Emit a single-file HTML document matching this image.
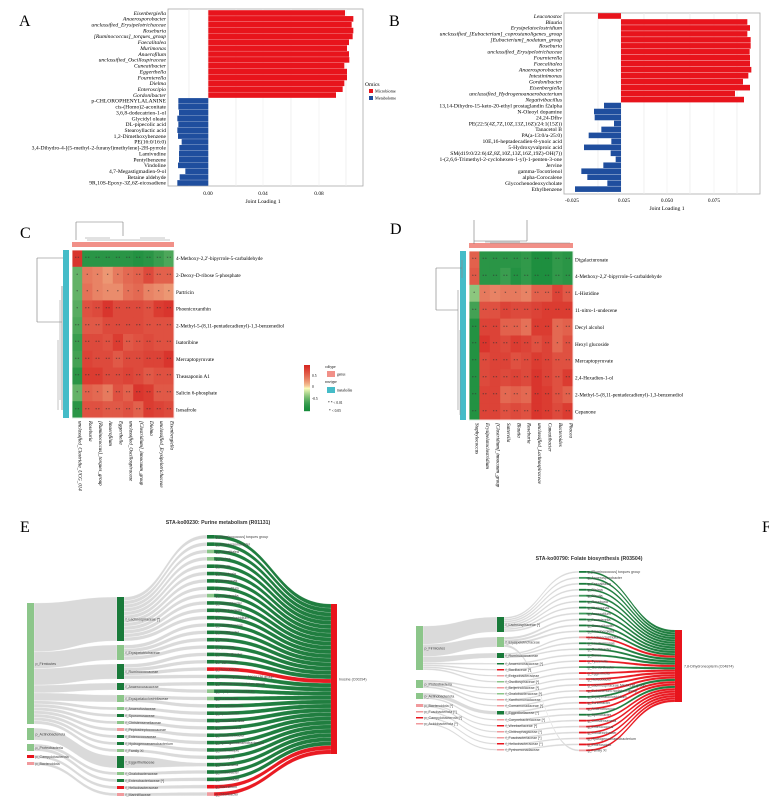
<!DOCTYPE html>
<html><head><meta charset="utf-8">
<style>
html,body{margin:0;padding:0;background:#fff;}
svg{display:block;}
.sf{font-family:"Liberation Serif",serif;}
.ss{font-family:"Liberation Sans",sans-serif;}
</style></head>
<body>
<svg id="s" width="769" height="802" viewBox="0 0 769 802" xmlns="http://www.w3.org/2000/svg"></svg>
<script>
var o=[];
function T(x,y,t,sz,anc,extra,cls){o.push('<text x="'+x+'" y="'+y+'" font-size="'+sz+'" text-anchor="'+(anc||'start')+'" class="'+(cls||'sf')+'" '+(extra||'')+'>'+t+'</text>');}
function R(x,y,w,h,f,extra){o.push('<rect x="'+x+'" y="'+y+'" width="'+w+'" height="'+h+'" fill="'+f+'" '+(extra||'')+'/>');}
function L(x1,y1,x2,y2,c,w){o.push('<line x1="'+x1+'" y1="'+y1+'" x2="'+x2+'" y2="'+y2+'" stroke="'+(c||'#777')+'" stroke-width="'+(w||0.6)+'"/>');}
var RED='#e8141c',BLUE='#1f4e9e';
// ---------- Panel A ----------
T(19,26,'A',16);
R(168,9,195,177,'#fff','stroke="#aaa" stroke-width="0.8"');
[189,208,236,263,291,319,346].forEach(function(x,i){L(x,9,x,186,'#ececec',i%2?0.5:0.8);});
var aN=['Eisenbergiella','Anaerosporobacter','unclassified_Erysipelotrichaceae','Roseburia','[Ruminococcus]_torques_group','Faecalitalea','Murimonas','Anaerofilum','unclassified_Oscillospiraceae','Cuneatibacter','Eggerthella','Fournierella','Dielma','Enteroscipio','Gordonibacter','p-CHLOROPHENYLALANINE','cis-(Homo)2-aconitate','3,6,8-dodecatrien-1-ol','Glycidyl oleate','DL-pipecolic acid','Stearoyllactic acid','1,2-Dimethoxybenzene','PE(16:0/16:0)','3,4-Dihydro-4-[(5-methyl-2-furanyl)methylene]-2H-pyrrole','Lamivudine','Pentylbenzene','Vindoline','4,7-Megastigmadien-9-ol','Betaine aldehyde','9R,10S-Epoxy-3Z,6Z-eicosadiene'];
var aR=[1035,1060,1055,1060,1058,1047,1041,1047,1048,1033,1041,1041,1033,1028,1008];
var aB=[535,535,537,532,535,532,534,545,538,537,537,534,556,539,532];
for(var i=0;i<30;i++){var y=13+i*5.86;
 if(i<15){R(208.3,y-2.8,aR[i]/3-208.3,5.6,RED);T(166,y+1.8,aN[i],5.6,'end','font-style="italic"');}
 else{var s=aB[i-15]/3;R(s,y-2.8,208.3-s,5.6,BLUE);T(166,y+1.8,aN[i],5.6,'end');}}
T(208,195,'0.00',5.4,'middle');T(263,195,'0.04',5.4,'middle');T(319,195,'0.08',5.4,'middle');
T(263,203,'Joint Loading 1',5.6,'middle');
T(365,86,'Omics',5.6);R(369,89,4,4,RED);R(369,96,4,4,BLUE);T(375,92.5,'Microbiome',4.2);T(375,99.5,'Metabolome',4.2);
// ---------- Panel B ----------
T(389,26,'B',16);
R(564,13,196,181,'#fff','stroke="#aaa" stroke-width="0.8"');
[598,621,644,667,690,714,737].forEach(function(x,i){L(x,13,x,194,'#ececec',i%2?0.5:0.8);});
var bN=['Leuconostoc','Blautia','Erysipelatoclostridium','unclassified_[Eubacterium]_coprostanoligenes_group','[Eubacterium]_nodatum_group','Roseburia','unclassified_Erysipelotrichaceae','Fournierella','Faecalitalea','Anaerosporobacter','Intestinimonas','Gordonibacter','Eisenbergiella','unclassified_Hydrogenoanaerobacterium','Negativibacillus','13,14-Dihydro-15-keto-20-ethyl prostaglandin f2alpha','N-Oleoyl dopamine','24,24-Dfhv','PE(22:5(4Z,7Z,10Z,13Z,16Z)/24:1(15Z))','Tanacetol B','PA(a-13:0/a-25:0)','10E,16-heptadecadien-8-ynoic acid','5-Hydroxyvalproic acid','SM(d19:0/22:6(4Z,8Z,10Z,13Z,16Z,19Z)-OH(7))','1-(2,6,6-Trimethyl-2-cyclohexen-1-yl)-1-penten-3-one','Jervine','gamma-Tocotrienol','alpha-Corocalene','Glycochenodeoxycholate','Ethylbenzene'];
var bR=[1090,1098,1090,1100,1100,1097,1098,1098,1102,1093,1077,1098,1053,1080];
var bB=[660,630,632,690,652,614,682,600,680,695,658,592,610,670,573];
for(var i=0;i<30;i++){var y=16+i*5.97;
 if(i==0){R(598,y-2.8,23,5.6,RED);T(562,y+1.8,bN[i],5.6,'end','font-style="italic"');}
 else if(i<15){R(621,y-2.8,384+bR[i-1]/3-621,5.6,RED);T(562,y+1.8,bN[i],5.6,'end','font-style="italic"');}
 else{var s=384+bB[i-15]/3;R(s,y-2.8,621-s,5.6,BLUE);T(562,y+1.8,bN[i],5.6,'end');}}
T(572,202,'-0.025',5.4,'middle');T(624,202,'0.025',5.4,'middle');T(667,202,'0.050',5.4,'middle');T(714,202,'0.075',5.4,'middle');
T(667,210,'Joint Loading 1',5.6,'middle');
// ---------- heatmap helper ----------
function col(v){var a,b,t;if(v<0){a=[24,140,60];b=[255,255,191];t=Math.pow(v+1,1.6);}else{a=[255,255,191];b=[215,40,35];t=Math.pow(v,0.6);}
 return 'rgb('+Math.round(a[0]+(b[0]-a[0])*t)+','+Math.round(a[1]+(b[1]-a[1])*t)+','+Math.round(a[2]+(b[2]-a[2])*t)+')';}
function heat(x0,y0,w,h,V,rows,cols){
 for(var r=0;r<10;r++){for(var c=0;c<10;c++){var v=V[r][c];R(x0+c*w,y0+r*h,w+0.4,h+0.4,col(v));
  T(x0+c*w+w/2,y0+r*h+h/2+1.2,Math.abs(v)>0.55?'* *':'*',3.6,'middle','fill="#333"');}
  T(x0+10*w+2,y0+r*h+h/2+1.8,rows[r],5.2,'start');}
 R(x0,y0,10*w,10*h,'none','stroke="#fff" stroke-width="0.8"');
 for(var c=0;c<10;c++){var cx=x0+c*w+w/2+1.5,cy=y0+10*h+3;T(cx,cy,cols[c],5,'start','font-style="italic" transform="rotate(90 '+cx+' '+cy+')"');}
 R(x0,y0-8,10*w,5,'#f19088');R(x0-9,y0,6,10*h,'#45bcc8');
}
// ---------- Panel C ----------
T(20,238,'C',16);
var VC=[[0.9,-0.8,-0.8,-0.8,-0.8,-0.8,-0.85,-0.8,-0.7,-0.6],[-0.5,0.45,0.4,0.3,0.45,0.55,0.6,0.75,0.6,0.6],[-0.5,0.5,0.4,0.35,0.35,0.5,0.55,0.4,0.35,0.3],[-0.55,0.7,0.75,0.9,0.75,0.75,0.75,0.7,0.85,0.9],[-0.6,0.65,0.65,0.75,0.75,0.75,0.75,0.7,0.7,0.7],[-0.7,0.75,0.75,0.7,0.85,0.65,0.7,0.75,0.7,0.7],[-0.65,0.8,0.75,0.75,0.65,0.75,0.75,0.8,0.8,0.9],[-0.8,0.85,0.85,0.75,0.75,0.8,0.75,0.65,0.7,0.7],[-0.5,0.6,0.55,0.45,0.7,0.6,0.9,0.85,0.65,0.65],[-0.8,0.7,0.7,0.65,0.65,0.7,0.6,0.85,0.8,0.75]];
heat(72,250,10.2,16.8,VC,['4-Methoxy-2,2\'-bipyrrole-5-carbaldehyde','2-Deoxy-D-ribose 5-phosphate','Partricin','Phoenicoxanthin','2-Methyl-5-(8,11-pentadecadienyl)-1,3-benzenediol','Isatoribine','Mercaptopyruvate','Theasaponin A1','Salicin 6-phosphate','Isosafrole'],['unclassified_Clostridia_UCG_014','Roseburia','[Ruminococcus]_torques_group','Anaerofilum','Eggerthella','unclassified_Oscillospiraceae','[Clostridium]_innocuum_group','Dielma','unclassified_Erysipelotrichaceae','Eisenbergiella']);
L(76,222,76,240);L(123,222,123,236);L(76,222,123,222);L(87,240,170,240,'#888',0.5);L(85,238,110,238,'#888',0.5);L(140,238,165,238,'#888',0.5);
L(37,258,37,322);L(37,258,63,258);L(37,322,62,322);L(62,286,62,410,'#888',0.8);L(60,300,60,400,'#888',0.5);L(58,340,58,410,'#888',0.5);
for(var k=0;k<46;k++){R(304,365+k,6,1.2,col(1-2*k/45));}
T(312,377,'0.5',3.6);T(312,388,'0',3.6);T(312,400,'-0.5',3.6);
T(325,368,'coltype',3.6);R(327,371,8,6,'#f19088');T(337,375.5,'genus',3.6);
T(325,383,'rowtype',3.6);R(327,387,8,6,'#45bcc8');T(337,391.5,'metabolite',3.6);
T(328,404,'* *  &lt; 0.01',3.6);T(329,412,'*   &lt; 0.05',3.6);
// ---------- Panel D ----------
T(390,234,'D',16);
var VD=[[0.6,-0.8,-0.8,-0.8,-0.8,-0.75,-0.9,-0.9,-0.75,-0.8],[0.65,-0.8,-0.8,-0.7,-0.85,-0.75,-0.9,-0.9,-0.75,-0.8],[-0.35,0.45,0.4,0.45,0.45,0.4,0.6,0.6,0.8,0.65],[-0.65,0.7,0.7,0.8,0.75,0.75,0.8,0.85,0.85,0.85],[-0.85,0.8,0.8,0.6,0.6,0.5,0.85,0.85,0.55,0.6],[-0.85,0.9,0.8,0.75,0.85,0.8,0.7,0.8,0.55,0.7],[-0.85,0.75,0.8,0.8,0.7,0.75,0.85,0.8,0.7,0.7],[-0.85,0.75,0.8,0.75,0.8,0.75,0.9,0.8,0.7,0.85],[-0.85,0.8,0.8,0.55,0.6,0.55,0.9,0.85,0.7,0.6],[-0.85,0.8,0.8,0.7,0.75,0.7,0.9,0.85,0.75,0.85]];
heat(469,251,10.4,16.9,VD,['Digalacturonate','4-Methoxy-2,2\'-bipyrrole-5-carbaldehyde','L-Histidine','11-nitro-1-undecene','Decyl alcohol','Hexyl glucoside','Mercaptopyruvate','2,4-Hexadien-1-ol','2-Methyl-5-(8,11-pentadecadienyl)-1,3-benzenediol','Cepanone'],['Staphylococcus','Erysipelatoclostridium','[Clostridium]_innocuum_group','Sutterella','Blautia','Roseburia','unclassified_Lachnospiraceae','Cuneatibacter','Bacteroides','Phocea']);
L(474,220,474,244);L(527,220,527,241);L(474,241,527,241);L(490,243,570,243,'#888',0.5);L(485,242,520,242,'#888',0.5);
L(436,268,436,310);L(436,268,462,268);L(436,310,458,310);L(462,260,462,278,'#888',0.6);L(458,290,458,410,'#888',0.6);L(460,330,460,415,'#888',0.5);
// ---------- Sankey helper ----------
function rib(x0,a0,b0,x1,a1,b1,c,op,sw){var m=(x0+x1)/2;o.push('<path d="M'+x0+','+a0+'C'+m+','+a0+' '+m+','+a1+' '+x1+','+a1+'L'+x1+','+b1+'C'+m+','+b1+' '+m+','+b0+' '+x0+','+b0+'Z" fill="'+c+'" fill-opacity="'+op+'" stroke="#fff" stroke-width="'+sw+'"/>');}
function sankey(P,F,G,tg,X,fs){
 var pOff={},fOff={},pTot={},fTot={};
 F.forEach(function(f){pTot[f[4]]=(pTot[f[4]]||0)+(f[2]-f[1]);});
 G.forEach(function(g){fTot[g[4]]=(fTot[g[4]]||0)+(g[2]-g[1]);});
 F.forEach(function(f){var p=P[f[4]],ph=p[2]-p[1],sc=ph/pTot[f[4]],st=pOff[f[4]]||0,h=(f[2]-f[1])*sc;
  rib(X[0]+X[4],p[1]+st,p[1]+st+h,X[1],f[1],f[2],'#d4d4d4',0.85,0.3);pOff[f[4]]=st+h;});
 G.forEach(function(g){var f=F[g[4]],fh=f[2]-f[1],sc=fh/fTot[g[4]],st=fOff[g[4]]||0,h=(g[2]-g[1])*sc;
  rib(X[1]+X[4],f[1]+st,f[1]+st+h,X[2],g[1],g[2],'#d4d4d4',0.85,0.3);fOff[g[4]]=st+h;});
 var tot=0;G.forEach(function(g){tot+=g[2]-g[1];});var sc=(tg[2]-tg[1])/tot,st=tg[1];
 G.forEach(function(g){var h=(g[2]-g[1])*sc;var c=g[3]==PK||g[3]==RED?RED:'#197a3a';rib(X[2]+X[4],g[1],g[2],X[3],st,st+h,c,0.97,0.12);st+=h;});
 P.forEach(function(p){R(X[0],p[1],X[4],Math.max(p[2]-p[1],1.2),p[3]);T(X[0]+X[4]+1.5,(p[1]+p[2])/2+1.3,p[0],fs,'start','fill="#444"','ss');});
 F.forEach(function(f){R(X[1],f[1],X[4],Math.max(f[2]-f[1],1.2),f[3]);T(X[1]+X[4]+1.5,(f[1]+f[2])/2+1.3,f[0],fs,'start','fill="#444"','ss');});
 G.forEach(function(g){R(X[2],g[1],X[4],Math.max(g[2]-g[1],1.2),g[3]);T(X[2]+X[4]+1.5,(g[1]+g[2])/2+1.3,g[0],fs,'start','fill="#444"','ss');});
 R(X[3],tg[1],X[5]||X[4],tg[2]-tg[1],RED);T(X[3]+(X[5]||X[4])+2,(tg[1]+tg[2])/2+1.3,tg[0],fs,'start','fill="#444"','ss');
}
var DG='#197a3a',LG='#8cc68a',PK='#f19a9d';
var gn=['g_[Ruminococcus] torques group','g_Anaerosporobacter','g_Faecalitalea','g_Dielma','g_Blautia','g_Roseburia','g_Murimonas','g_Anaerofilum','g_Fournierella','g_Cuneatibacter','g_Eisenbergiella','g_Lachnoclostridium','g_Intestinimonas','g_Oscillibacter','g_Dorea','g_Tyzzerella','g_Gordonibacter','g_Eggerthella','g_Helicobacter','g_Lachnospiraceae NK4A136 group','g_Eubacterium nodatum group','g_Erysipelatoclostridium','g_Turicibacter','g_Anaerotruncus','g_Sporobacter','g_Christensenella','g_Enterococcus','g_Colidextribacter','g_Hydrogenoanaerobacterium','g_Enteroscipio','g_Family XI','g_Escherichia','g_Oxalobacter','g_Helicobacter','g_Marinifilum','g_Odoribacter'];
// ---------- Panel E ----------
T(20,532,'E',16);
T(218,524,'STA-ko00230: Purine metabolism (R01131)',5.2,'middle','font-weight="bold" fill="#333"','ss');
var PE=[['p_Firmicutes',603,724,LG],['p_Actinobacteriota',728,740,LG],['p_Proteobacteria',744,751,LG],['p_Campylobacterota',755,758,RED],['p_Bacteroidota',762,765,PK]];
var FE=[['f_Lachnospiraceae [*]',597,641,DG,0],['f_Erysipelotrichaceae',645,660,LG,0],['f_Ruminococcaceae',664,679,DG,0],['f_Anaerovoracaceae',683,690,DG,0],['f_Erysipelatoclostridiaceae',695,702,LG,0],['f_Anaerofustaceae',707,710,LG,0],['f_Sporomusaceae',714,717,DG,0],['f_Christensenellaceae',721,724,LG,0],['f_Peptostreptococcaceae',728,731,PK,0],['f_Enterococcaceae',735,738,DG,0],['f_Hydrogenoanaerobacterium',742,745,DG,0],['f_Family XI',749,752,LG,0],['f_Eggerthellaceae',756,768,DG,1],['f_Oxalobacteraceae',772,775,LG,2],['f_Enterobacteriaceae [*]',779,782,DG,2],['f_Helicobacteraceae',786,789,RED,3],['f_Marinifilaceae',793,796,PK,4]];
var famE=[0,0,0,0,0,0,0,0,0,0,0,0,1,1,1,1,2,2,2,2,3,3,4,4,5,6,7,8,9,10,11,12,13,14,15,16];
var colE={2:LG,3:LG,8:LG,21:LG,22:LG,18:RED,34:RED,35:PK};
var GE=[];for(var i=0;i<36;i++){var y=535+i*7.35;GE.push([gn[i],y,y+3.6,colE[i]||DG,famE[i]]);}
sankey(PE,FE,GE,['Inosine (C00294)',604,754],[27,117,207,331,7,6],3.6);
// ---------- Panel F ----------
T(762,532,'F',16);
T(589,560,'STA-ko00790: Folate biosynthesis (R03504)',5.2,'middle','font-weight="bold" fill="#333"','ss');
var PF=[['p_Firmicutes',626,670,LG],['p_Proteobacteria',680,688,LG],['p_Actinobacteriota',693,699,LG],['p_Bacteroidota [*]',704,707,PK],['p_Fusobacteriota [*]',711,712.5,PK],['p_Campylobacterota [*]',717,718.5,RED],['p_Acidobacteriota [*]',723,724.5,PK]];
var FF=[['f_Lachnospiraceae [*]',617,632,DG,0],['f_Erysipelotrichaceae',637,647,LG,0],['f_Ruminococcaceae',653,658,DG,0],['f_Anaerovoracaceae [*]',663,664.5,DG,0],['f_Bacillaceae [*]',669,670.5,RED,0],['f_Exiguobacteraceae',675,676.5,PK,0],['f_Oscillospiraceae [*]',681,682.5,LG,0],['f_Beijerinckiaceae [*]',687,688.5,PK,1],['f_Oxalobacteraceae [*]',693,694.5,LG,1],['f_Xanthomonadaceae',699,700.5,PK,1],['f_Comamonadaceae [*]',705,706.5,PK,1],['f_Eggerthellaceae [*]',711,714.5,DG,2],['f_Corynebacteriaceae [*]',719,720.5,PK,2],['f_Weeksellaceae [*]',725,726.5,RED,3],['f_Chitinophagaceae [*]',731,732.5,PK,3],['f_Fusobacteriaceae [*]',737,738.5,PK,4],['f_Helicobacteraceae [*]',743,744.5,RED,5],['f_Pyrinomonadaceae',749,750.5,PK,6]];
var famF=[0,0,0,0,0,0,0,0,1,1,1,2,2,2,3,4,5,6,7,8,9,10,11,11,12,13,14,15,16,17,1];
var colF={11:PK,15:RED,17:RED,18:PK,19:RED,20:PK,22:RED,23:PK,25:RED,26:PK,27:RED,28:PK,29:RED,30:PK};
var GF=[];for(var i=0;i<31;i++){var y=571+i*5.95;GF.push([gn[i],y,y+1.8,colF[i]||(i%3==1?'#3f9a5c':DG),famF[i]]);}
sankey(PF,FF,GF,['7,8-Dihydroneopterin (C04874)',630,702],[416,497,579,675,7,7],3.6);
document.getElementById('s').innerHTML=o.join('');
</script>
</body></html>
